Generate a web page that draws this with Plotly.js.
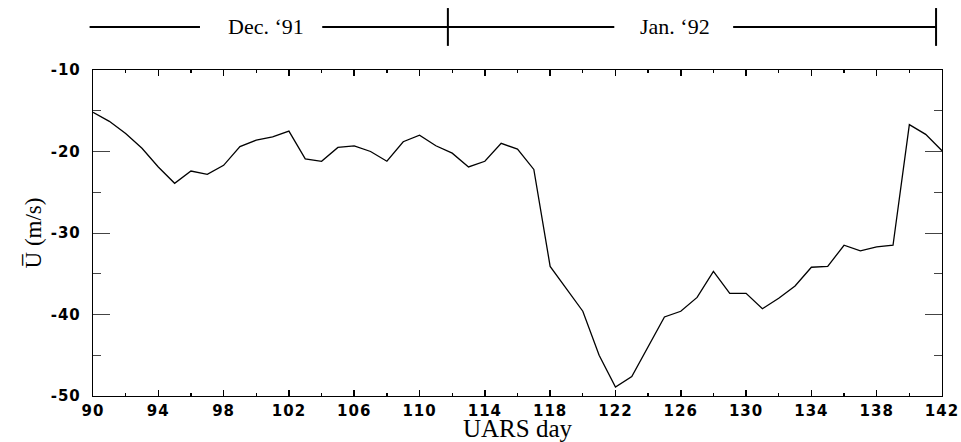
<!DOCTYPE html>
<html>
<head>
<meta charset="utf-8">
<script src="https://cdn.plot.ly/plotly-3.0.1.min.js"></script>
<style>
html,body{margin:0;padding:0;background:#fff;}
#chart{width:961px;height:442px;}
.xtick text, .ytick text { letter-spacing: 1px; }
</style>
</head>
<body>
<div id="chart"></div>
<script>
// UARS day
var days = [90,91,92,93,94,95,96,97,98,99,100,101,102,103,104,105,106,107,108,109,110,111,112,113,114,115,116,117,118,119,120,121,122,123,124,125,126,127,128,129,130,131,132,133,134,135,136,137,138,139,140,141,142];
// zonal mean wind U (m/s)
var uMean = [-15.2,-16.3,-17.8,-19.6,-21.9,-23.9,-22.4,-22.8,-21.7,-19.4,-18.6,-18.2,-17.5,-20.9,-21.2,-19.5,-19.3,-20.0,-21.2,-18.8,-18.0,-19.3,-20.2,-21.9,-21.2,-19.0,-19.7,-22.2,-34.1,-36.9,-39.6,-45.0,-48.9,-47.6,-43.9,-40.3,-39.6,-37.9,-34.7,-37.4,-37.4,-39.3,-38.0,-36.5,-34.2,-34.1,-31.5,-32.2,-31.7,-31.5,-16.7,-17.9,-19.9];
var xTicks = [90,94,98,102,106,110,114,118,122,126,130,134,138,142];
var yTicks = [-50,-40,-30,-20,-10];
var monthLabels = ["Dec. \u201891", "Jan. \u201892"];

var tickFont = {family: "DejaVu Sans", size: 15, color: "#000", weight: "bold"};
var serif = "Liberation Serif, Times New Roman, serif";

var trace = {
  x: days, y: uMean, type: "scatter", mode: "lines",
  line: {color: "#000", width: 1.3}, hoverinfo: "x+y"
};

var tl = 1.132; // timeline height in paper units
var shapes = [
  {type:"line", xref:"paper", yref:"paper", x0:-0.004, x1:0.126, y0:tl, y1:tl, line:{color:"#000", width:2}},
  {type:"line", xref:"paper", yref:"paper", x0:0.270, x1:0.614, y0:tl, y1:tl, line:{color:"#000", width:2}},
  {type:"line", xref:"paper", yref:"paper", x0:0.418, x1:0.418, y0:1.074, y1:1.19, line:{color:"#000", width:2}},
  {type:"line", xref:"paper", yref:"paper", x0:0.754, x1:0.993, y0:tl, y1:tl, line:{color:"#000", width:2}},
  {type:"line", xref:"paper", yref:"paper", x0:0.993, x1:0.993, y0:1.074, y1:1.19, line:{color:"#000", width:2}}
];
var annotations = [
  {xref:"paper", yref:"paper", x:0.204, y:tl, text:monthLabels[0], showarrow:false, font:{family:serif, size:22, color:"#000"}, xanchor:"center", yanchor:"middle"},
  {xref:"paper", yref:"paper", x:0.686, y:tl, text:monthLabels[1], showarrow:false, font:{family:serif, size:22, color:"#000"}, xanchor:"center", yanchor:"middle"}
];

var layout = {
  width: 961, height: 442,
  margin: {l: 93, r: 19, t: 70, b: 46},
  paper_bgcolor: "#fff", plot_bgcolor: "#fff",
  showlegend: false,
  shapes: shapes, annotations: annotations,
  xaxis: {
    range: [90, 142], tickvals: xTicks, ticktext: xTicks.map(String),
    ticks: "inside", ticklen: 6, tickwidth: 1.5, tickcolor: "#000",
    minor: {dtick: 2, tick0: 90, ticks: "inside", ticklen: 3, tickwidth: 1.3, tickcolor: "#000", showgrid: false},
    showline: true, linecolor: "#000", linewidth: 1.2, mirror: "ticks",
    showgrid: false, zeroline: false, tickfont: tickFont, ticklabelstandoff: 1,
    automargin: false,
    title: {text: "UARS day", font: {family: serif, size: 25, color: "#000"}, standoff: 0}
  },
  yaxis: {
    range: [-50, -10], tickvals: yTicks, ticktext: yTicks.map(String),
    ticks: "inside", ticklen: 17, tickwidth: 1, tickcolor: "#444",
    minor: {dtick: 5, tick0: -50, ticks: "inside", ticklen: 8, tickwidth: 1, tickcolor: "#444", showgrid: false},
    showline: true, linecolor: "#000", linewidth: 1.2, mirror: "ticks",
    showgrid: false, zeroline: false, tickfont: tickFont, ticklabelstandoff: 8,
    automargin: false,
    title: {text: "U\u0305 (m/s)", font: {family: serif, size: 23, color: "#000"}, standoff: 2}
  }
};

Plotly.newPlot("chart", [trace], layout, {displayModeBar: false, staticPlot: true});
</script>
</body>
</html>
